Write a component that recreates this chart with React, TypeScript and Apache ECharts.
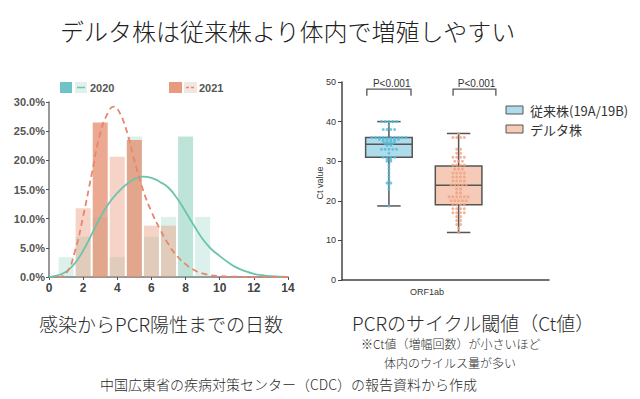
import React, { useEffect, useRef } from "react";
import * as echarts from "echarts";

// ---------- Data ----------
// Histogram: days from infection to PCR positive (% of cases)
const days = [1, 2, 3, 4, 5, 6, 7, 8, 9];
const pct2020 = [3.4, 6.9, 10.3, 3.4, 24.1, 6.9, 10.3, 24.1, 10.3];
const pct2021 = [0, 11.8, 26.5, 20.6, 23.5, 8.8, 8.8, 0, 0];

// Fitted curves: [day, %]
const fit2020: [number, number][] = [
  [0, 0], [0.5, 0.3], [1, 0.9], [1.5, 2.3], [2, 4.5], [2.5, 7.3], [3, 10.2], [3.5, 12.6],
  [4, 14.4], [4.5, 15.8], [5, 16.8], [5.5, 17.2], [6, 17.0], [6.5, 16.3], [7, 15.3],
  [7.5, 13.5], [8, 11.2], [8.5, 8.8], [9, 6.5], [9.5, 4.8], [10, 3.6], [10.5, 2.5],
  [11, 1.6], [11.5, 1.0], [12, 0.55], [12.5, 0.3], [13, 0.15], [14, 0.03],
];
const fit2021: [number, number][] = [
  [0.5, 0], [1, 0.6], [1.5, 4.2], [2, 10.4], [2.5, 17.6], [3, 24.6], [3.5, 28.4],
  [3.8, 29.2], [4, 28.9], [4.5, 25.5], [5, 20.0], [5.5, 15.0], [6, 11.2], [6.5, 8.2],
  [7, 5.6], [7.5, 3.6], [8, 2.2], [8.5, 1.2], [9, 0.6], [10, 0.15], [11, 0.05], [12, 0], [14, 0],
];

// Box plot: Ct values
const strains = ["従来株(19A/19B)", "デルタ株"];
const boxMin = [18.7, 12.0];
const boxQ1 = [31.0, 19.0];
const boxMedian = [34.3, 23.9];
const boxQ3 = [36.0, 28.8];
const boxMax = [40.0, 37.0];
const ctLegacy = [
  40, 40, 40, 40, 40, 39, 38, 38, 38, 38, 36, 36, 36, 36, 36, 36, 36, 36, 36, 36,
  35.5, 35.5, 35.5, 35.5, 35.5, 35.5, 35, 35, 35, 35, 34.5, 34.5, 34.5, 34, 34,
  33, 33, 33, 33, 33, 32, 31, 31, 31, 31, 30.5, 30.5, 30, 30, 29, 28, 27, 26, 25,
  24.5, 24.5, 24, 23, 18.7,
];
const ctDelta = [
  37, 36, 36, 36, 36, 33, 33, 32, 32, 31, 31, 31, 31, 30, 30, 30, 29, 29, 29, 29,
  28, 28, 28, 27, 27, 27, 27, 26, 26, 26, 26, 25, 25, 25, 25, 24, 24, 24, 24, 24,
  23, 23, 22, 22, 21, 21, 21, 21, 21, 21, 20, 20, 20, 20, 20, 19, 19, 19, 19,
  18, 18, 18, 18, 17, 17, 17, 17, 16, 16, 15, 15, 14, 14, 13, 12,
];
const pLabels = ["P<0.001", "P<0.001"];

// ---------- Styles / layout ----------
const dark2020Days = [8];
const dark2021Days = [3, 5];
const teal = "#6cc3ae";
const salmon = "#e8866c";
const boxCenters = [0.68, 1.69];
const boxFill = ["#aedcea", "#f5cab6"];
const dotColor = ["#55bad8", "#ef a080".replace(" ", "")];
const brackets = [
  { x1: 0.36, x2: 1.0, yTop: 48.2, yEnd: 46.5, tx: 0.72, ty: 49.7 },
  { x1: 1.61, x2: 2.23, yTop: 48.2, yEnd: 46.5, tx: 1.95, ty: 49.7 },
];
const JP = "'Noto Sans CJK JP', 'Noto Sans', sans-serif";
const LAT = "'Liberation Sans', Arial, sans-serif";

function swarm(values: number[], center: number, step: number) {
  const groups: Record<string, number> = {};
  values.forEach((v) => (groups[v] = (groups[v] || 0) + 1));
  const seen: Record<string, number> = {};
  return values.map((v) => {
    const n = groups[v];
    const i = seen[v] || 0;
    seen[v] = i + 1;
    return [center + (i - (n - 1) / 2) * step, v];
  });
}

export default function App() {
  const ref = useRef<HTMLDivElement>(null);
  useEffect(() => {
    if (!ref.current) return;
    const chart = echarts.init(ref.current, undefined, { renderer: "svg" });

    const barData = (vals: number[], darkDays: number[], dark: string, light: string) =>
      days.map((d, i) => ({
        value: [d, vals[i]],
        itemStyle: { color: darkDays.includes(d) ? dark : light },
      }));

    const text = (t: string, x: number, y: number, size: number, extra: any = {}) => ({
      type: "text",
      x,
      y,
      silent: true,
      style: {
        text: t,
        fontSize: size,
        fontFamily: JP,
        fontWeight: 300,
        fill: "#2a2a2a",
        align: "left",
        verticalAlign: "middle",
        ...extra,
      },
    });

    const option: any = {
      animation: false,
      grid: [
        { left: 49, top: 102, width: 239, height: 175 },
        { left: 342, top: 82, width: 207, height: 198 },
      ],
      xAxis: [
        {
          gridIndex: 0, type: "value", min: 0, max: 14, interval: 2,
          axisLine: { lineStyle: { color: "#777", width: 1.5 } },
          axisTick: { show: true, length: 3, lineStyle: { color: "#555" } },
          axisLabel: { fontSize: 12, fontWeight: "bold", color: "#444", margin: 5, fontFamily: LAT },
          splitLine: { show: false },
        },
        {
          gridIndex: 1, type: "value", min: 0, max: 3,
          axisLine: { lineStyle: { color: "#444", width: 1.5 } },
          axisTick: { show: false }, axisLabel: { show: false }, splitLine: { show: false },
        },
      ],
      yAxis: [
        {
          gridIndex: 0, type: "value", min: 0, max: 30, interval: 5,
          axisLine: { show: true, lineStyle: { color: "#777", width: 1.5 } },
          axisTick: { show: true, length: 3, lineStyle: { color: "#555" } },
          axisLabel: {
            fontSize: 11, fontWeight: "bold", color: "#555", margin: 4, fontFamily: LAT,
            formatter: (v: number) => v.toFixed(1) + "%",
          },
          splitLine: { show: false },
        },
        {
          gridIndex: 1, type: "value", min: 0, max: 50, interval: 10,
          axisLine: { show: true, lineStyle: { color: "#444", width: 1.5 } },
          axisTick: { show: true, length: 4, lineStyle: { color: "#444" } },
          axisLabel: { fontSize: 9, color: "#333", margin: 6, fontFamily: LAT },
          splitLine: { show: false },
        },
      ],
      series: [
        {
          type: "bar", xAxisIndex: 0, yAxisIndex: 0, barWidth: 15, barGap: "-100%",
          data: barData(pct2020, dark2020Days, "rgba(110,195,170,0.45)", "rgba(110,195,170,0.24)"),
        },
        {
          type: "bar", xAxisIndex: 0, yAxisIndex: 0, barWidth: 15, barGap: "-100%",
          data: barData(pct2021, dark2021Days, "rgba(228,140,108,0.75)", "rgba(232,150,120,0.42)"),
        },
        {
          type: "line", xAxisIndex: 0, yAxisIndex: 0, data: fit2020, smooth: true,
          showSymbol: false, lineStyle: { color: teal, width: 1.8 }, z: 5,
        },
        {
          type: "line", xAxisIndex: 0, yAxisIndex: 0, data: fit2021, smooth: true,
          showSymbol: false, lineStyle: { color: salmon, width: 1.8, type: [6, 4] }, z: 5,
        },
        {
          type: "custom", xAxisIndex: 1, yAxisIndex: 1,
          data: strains.map((_, i) => [boxCenters[i], boxMin[i], boxQ1[i], boxMedian[i], boxQ3[i], boxMax[i]]),
          renderItem: (params: any, api: any) => {
            const x = api.value(0);
            const pMin = api.coord([x, api.value(1)]);
            const pQ1 = api.coord([x, api.value(2)]);
            const pMed = api.coord([x, api.value(3)]);
            const pQ3 = api.coord([x, api.value(4)]);
            const pMax = api.coord([x, api.value(5)]);
            const hw = 23.3;
            const cap = 11.7;
            const st = { stroke: "#555", lineWidth: 1.5 };
            const cx = pMin[0];
            return {
              type: "group",
              children: [
                { type: "line", shape: { x1: cx, y1: pMin[1], x2: cx, y2: pMax[1] }, style: st },
                { type: "line", shape: { x1: cx - cap, y1: pMin[1], x2: cx + cap, y2: pMin[1] }, style: st },
                { type: "line", shape: { x1: cx - cap, y1: pMax[1], x2: cx + cap, y2: pMax[1] }, style: st },
                {
                  type: "rect",
                  shape: { x: cx - hw, y: pQ3[1], width: hw * 2, height: pQ1[1] - pQ3[1] },
                  style: { fill: boxFill[params.dataIndex], stroke: "#555", lineWidth: 1.5 },
                },
                { type: "line", shape: { x1: cx - hw, y1: pMed[1], x2: cx + hw, y2: pMed[1] }, style: st },
              ],
            };
          },
        },
        {
          type: "scatter", xAxisIndex: 1, yAxisIndex: 1, symbolSize: 3, z: 4,
          itemStyle: { color: dotColor[0] },
          data: swarm(ctLegacy, boxCenters[0], 0.055),
        },
        {
          type: "scatter", xAxisIndex: 1, yAxisIndex: 1, symbolSize: 3, z: 4,
          itemStyle: { color: dotColor[1] },
          data: swarm(ctDelta, boxCenters[1], 0.055),
        },
        {
          type: "custom", xAxisIndex: 1, yAxisIndex: 1,
          data: brackets.map((b) => [b.x1, b.x2, b.yTop, b.yEnd, b.tx, b.ty]),
          renderItem: (params: any, api: any) => {
            const a = api.coord([api.value(0), api.value(2)]);
            const b = api.coord([api.value(1), api.value(3)]);
            const t = api.coord([api.value(4), api.value(5)]);
            return {
              type: "group",
              children: [
                {
                  type: "polyline",
                  shape: { points: [[a[0], b[1]], [a[0], a[1]], [b[0], a[1]], [b[0], b[1]]] },
                  style: { stroke: "#555", lineWidth: 1.3, fill: "none" },
                },
                {
                  type: "text", x: t[0], y: t[1],
                  style: {
                    text: pLabels[params.dataIndex], fontSize: 10, fontFamily: LAT, fill: "#333",
                    align: "center", verticalAlign: "middle",
                  },
                },
              ],
            };
          },
        },
      ],
      graphic: [
        text("デルタ株は従来株より体内で増殖しやすい", 60, 30, 24, { fill: "#222" }),
        // histogram legend
        { type: "rect", shape: { x: 60, y: 82, width: 12, height: 11 }, style: { fill: "#6ec3c6" } },
        { type: "rect", shape: { x: 75, y: 82, width: 12, height: 11 }, style: { fill: "#e3efec" } },
        { type: "line", shape: { x1: 77, y1: 87.5, x2: 85, y2: 87.5 }, style: { stroke: teal, lineWidth: 1.5 } },
        text("2020", 90, 87.5, 11, { fontFamily: LAT, fontWeight: "bold", fill: "#555" }),
        { type: "rect", shape: { x: 169, y: 82, width: 13, height: 11 }, style: { fill: "#e89a7e" } },
        { type: "rect", shape: { x: 184, y: 82, width: 13, height: 11 }, style: { fill: "#f3e6e0" } },
        { type: "line", shape: { x1: 186, y1: 87.5, x2: 195, y2: 87.5 }, style: { stroke: salmon, lineWidth: 1.5, lineDash: [3, 2] } },
        text("2021", 199, 87.5, 11, { fontFamily: LAT, fontWeight: "bold", fill: "#555" }),
        // box legend
        { type: "rect", shape: { x: 506, y: 106, width: 17, height: 8 }, style: { fill: boxFill[0], stroke: "#555", lineWidth: 1 } },
        text(strains[0], 530, 110, 13, { fill: "#333", fontWeight: "normal" }),
        { type: "rect", shape: { x: 506, y: 125, width: 17, height: 8 }, style: { fill: boxFill[1], stroke: "#555", lineWidth: 1 } },
        text(strains[1], 530, 129, 13, { fill: "#333", fontWeight: "normal" }),
        // box axis names
        {
          ...text("Ct value", 320, 183, 9, { fontFamily: LAT, fill: "#333", align: "center", fontWeight: "normal" }),
          rotation: Math.PI / 2,
        },
        text("ORF1ab", 427, 292, 9, { fontFamily: LAT, fill: "#333", align: "center", fontWeight: "normal" }),
        // captions
        text("感染からPCR陽性までの日数", 39, 323, 19),
        text("PCRのサイクル閾値（Ct値）", 352, 322, 19),
        text("※Ct値（増幅回数）が小さいほど", 361, 343, 12),
        text("体内のウイルス量が多い", 384, 362, 12),
        text("中国広東省の疾病対策センター（CDC）の報告資料から作成", 100, 384, 14),
      ],
    };
    chart.setOption(option);
    return () => chart.dispose();
  }, []);
  return (
    <div
      ref={ref}
      style={{ position: "absolute", left: 0, top: 0, width: 640, height: 399, background: "#fff" }}
    />
  );
}
